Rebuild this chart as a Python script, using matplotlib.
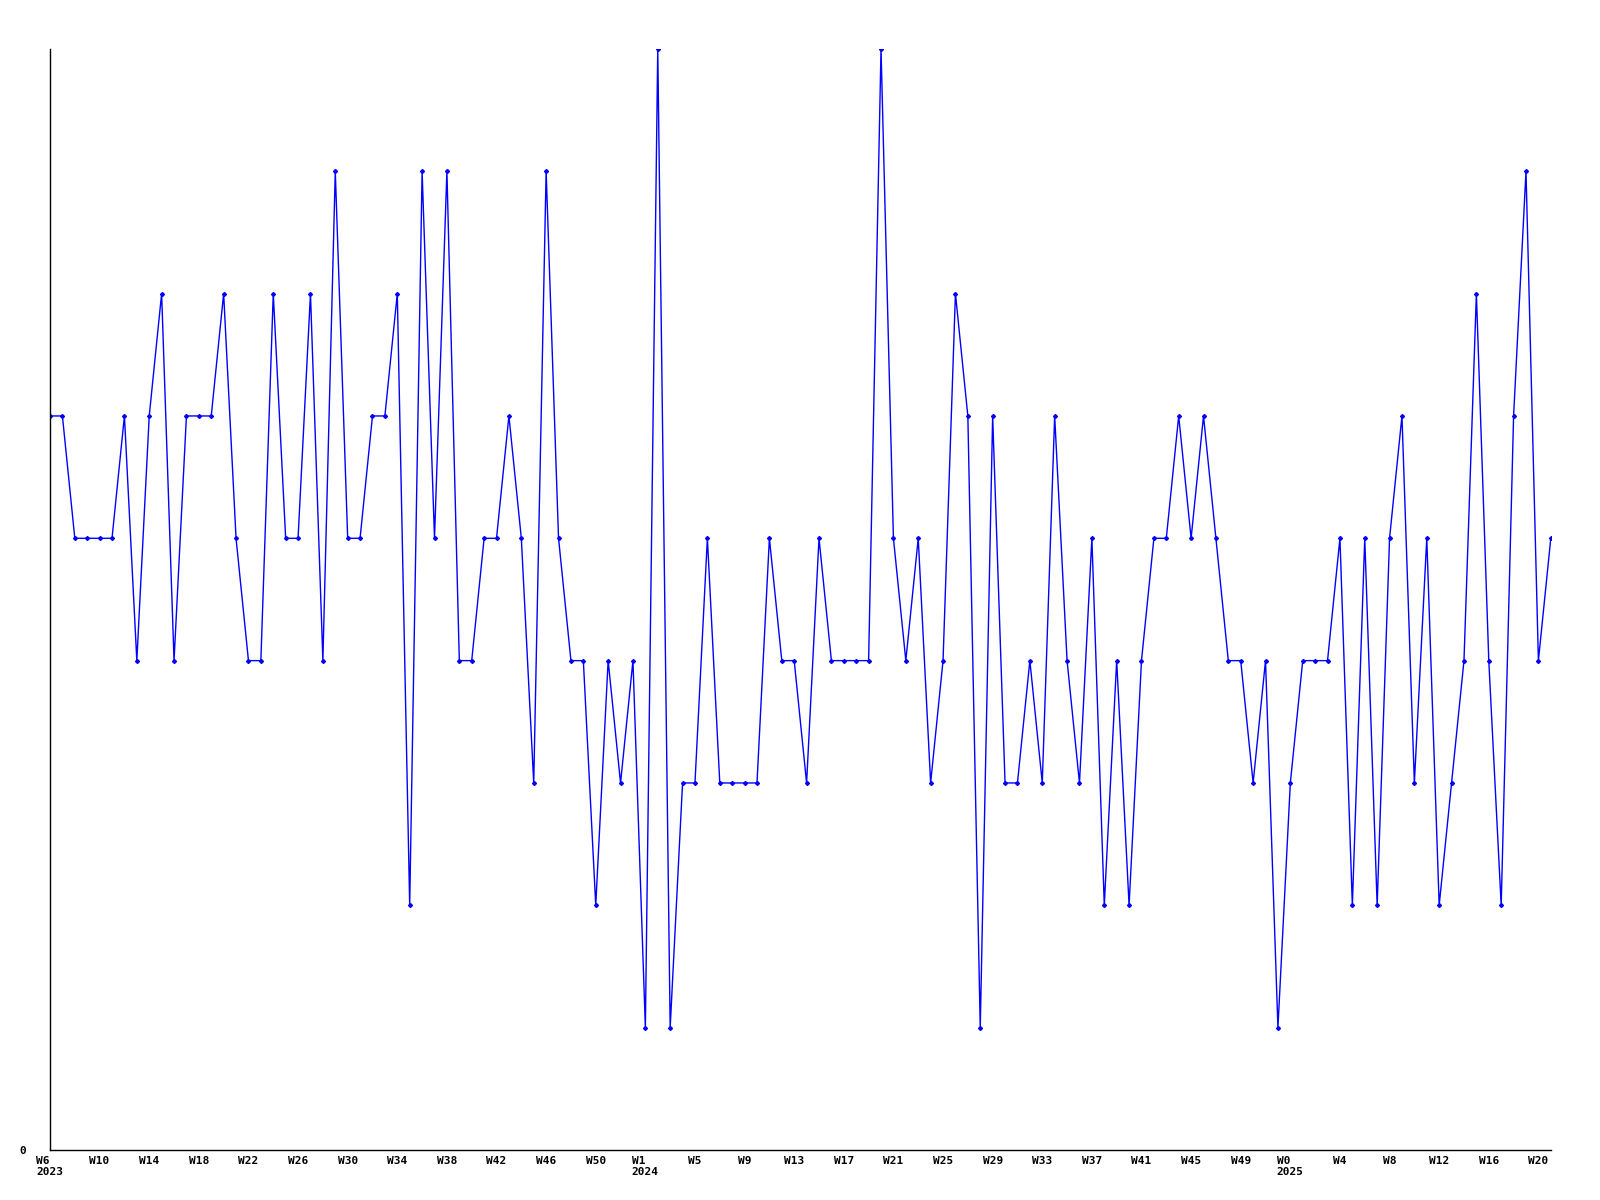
import matplotlib
matplotlib.use("Agg")
import matplotlib.pyplot as plt

# weekly counts, 2023 W6 .. 2025 W21
values = [6, 6, 5, 5, 5, 5, 6, 4, 6, 7, 4, 6, 6, 6, 7, 5, 4, 4, 7, 5, 5,
          7, 4, 8, 5, 5, 6, 6, 7, 2, 8, 5, 8, 4, 4, 5, 5, 6, 5, 3, 8,
          5, 4, 4, 2, 4, 3, 4, 1, 9, 1, 3, 3, 5, 3, 3, 3, 3, 5, 4, 4,
          3, 5, 4, 4, 4, 4, 9, 5, 4, 5, 3, 4, 7, 6, 1, 6, 3, 3, 4, 3,
          6, 4, 3, 5, 2, 4, 2, 4, 5, 5, 6, 5, 6, 5, 4, 4, 3, 4, 1, 3,
          4, 4, 4, 5, 2, 5, 2, 5, 6, 3, 5, 2, 3, 4, 7, 4, 2, 6, 8, 4, 5]

years = [2023] * 48 + [2024] * 52 + [2025] * 22
weeks = list(range(6, 54)) + list(range(1, 53)) + list(range(0, 22))

x = list(range(len(values)))

ticks = []
labels = []
last_year = None
for i in range(0, len(values), 4):
    lab = "W%d" % weeks[i]
    if years[i] != last_year:
        lab += "\n%d" % years[i]
        last_year = years[i]
    ticks.append(i)
    labels.append(lab)

fig = plt.figure(figsize=(16, 12), dpi=100)
ax = fig.add_axes([0.03125, 0.0417, 0.938, 0.9175])

ax.plot(x, values, color="#0000ff", lw=1, marker="D", markersize=2)

ax.set_xlim(0, len(values) - 1)
ax.set_ylim(0, 9)
ax.set_xticks(ticks)
ax.set_xticklabels(labels, fontfamily="DejaVu Sans Mono", fontweight="bold",
                   fontsize=8, multialignment="left")
ax.set_yticks([0])
ax.set_yticklabels(["0"], fontfamily="DejaVu Sans Mono", fontweight="bold", fontsize=8)
ax.tick_params(axis="x", length=0, pad=4)
ax.tick_params(axis="y", length=0, pad=17)

ax.spines["top"].set_visible(False)
ax.spines["right"].set_visible(False)
ax.spines["left"].set_linewidth(1)
ax.spines["bottom"].set_linewidth(1)

fig.savefig("out.png", dpi=100)
